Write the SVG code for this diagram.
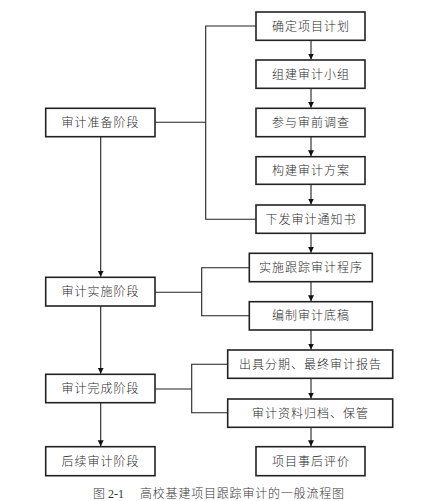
<svg xmlns="http://www.w3.org/2000/svg" width="421" height="501" viewBox="0 0 421 501">
<style>
.box{fill:#fff;stroke:#222;stroke-width:1.6}
.t{font-family:"Liberation Sans","Noto Sans CJK SC",sans-serif;font-size:12px;font-weight:300;fill:#2a2a2a;text-anchor:middle;letter-spacing:1px}
.ln{fill:none;stroke:#222;stroke-width:1.1}
.cap{font-family:"Liberation Serif","Noto Sans CJK SC",serif;font-size:12px;font-weight:300;fill:#333}
</style>
<defs>
<marker id="ah" markerWidth="6" markerHeight="8" refX="6" refY="3" orient="auto" markerUnits="userSpaceOnUse" viewBox="0 0 6 6">
<path d="M0,0 L6,3 L0,6 Z" fill="#111"/>
</marker>
</defs>
<rect width="421" height="501" fill="#fff"/>
<g id="connectors">
<path class="ln" d="M256,26 H205.7 V219.3 H256"/>
<path class="ln" d="M155,122.3 H205.7"/>
<path class="ln" d="M249.3,267.7 H201.7 V315.7 H249.3"/>
<path class="ln" d="M155,292.3 H201.7"/>
<path class="ln" d="M227.7,364.3 H191.7 V412.7 H227.7"/>
<path class="ln" d="M155,389 H191.7"/>
<path class="ln" d="M311,40.3 V59.5" marker-end="url(#ah)"/>
<path class="ln" d="M311,88.3 V107.8" marker-end="url(#ah)"/>
<path class="ln" d="M311,136.7 V156.2" marker-end="url(#ah)"/>
<path class="ln" d="M311,184.3 V204.5" marker-end="url(#ah)"/>
<path class="ln" d="M311,233.3 V252.8" marker-end="url(#ah)"/>
<path class="ln" d="M311,281.7 V301.2" marker-end="url(#ah)"/>
<path class="ln" d="M311,330 V349.5" marker-end="url(#ah)"/>
<path class="ln" d="M311,378.3 V398.5" marker-end="url(#ah)"/>
<path class="ln" d="M311,427.3 V446.2" marker-end="url(#ah)"/>
<path class="ln" d="M100.7,136.7 V276.8" marker-end="url(#ah)"/>
<path class="ln" d="M100.7,306 V373.8" marker-end="url(#ah)"/>
<path class="ln" d="M100.7,402.7 V446.2" marker-end="url(#ah)"/>
</g>
<g id="n1"><rect class="box" x="256" y="12" width="109" height="28.3"/><text class="t" x="311" y="30.5">确定项目计划</text></g>
<g id="n2"><rect class="box" x="256" y="60" width="109" height="28.3"/><text class="t" x="311" y="78.5">组建审计小组</text></g>
<g id="n3"><rect class="box" x="256" y="108.3" width="109" height="28.4"/><text class="t" x="311" y="126.8">参与审前调查</text></g>
<g id="n4"><rect class="box" x="256" y="156.7" width="109" height="27.6"/><text class="t" x="311" y="174.8">构建审计方案</text></g>
<g id="n5"><rect class="box" x="256" y="205" width="109" height="28.3"/><text class="t" x="311" y="223.5">下发审计通知书</text></g>
<g id="n6"><rect class="box" x="249.3" y="253.3" width="123" height="28.4"/><text class="t" x="311" y="271.8">实施跟踪审计程序</text></g>
<g id="n7"><rect class="box" x="249.3" y="301.7" width="123" height="28.3"/><text class="t" x="311" y="320.2">编制审计底稿</text></g>
<g id="n8"><rect class="box" x="227.7" y="350" width="165" height="28.3"/><text class="t" x="310.5" y="368.5">出具分期、最终审计报告</text></g>
<g id="n9"><rect class="box" x="227.7" y="399" width="165" height="28.3"/><text class="t" x="310.5" y="417.5">审计资料归档、保管</text></g>
<g id="n10"><rect class="box" x="256" y="446.7" width="109" height="29"/><text class="t" x="311" y="465.5">项目事后评价</text></g>
<g id="s1"><rect class="box" x="45.7" y="108.3" width="109.3" height="28.4"/><text class="t" x="100.5" y="126.8">审计准备阶段</text></g>
<g id="s2"><rect class="box" x="45.7" y="277.3" width="109.3" height="28.7"/><text class="t" x="100.5" y="295.9">审计实施阶段</text></g>
<g id="s3"><rect class="box" x="45.7" y="374.3" width="109.3" height="28.4"/><text class="t" x="100.5" y="392.8">审计完成阶段</text></g>
<g id="s4"><rect class="box" x="45.7" y="446.7" width="109.3" height="29"/><text class="t" x="100.5" y="465.5">后续审计阶段</text></g>
<text class="cap" x="93" y="497.5">图 2-1<tspan x="140" letter-spacing="0.8">高校基建项目跟踪审计的一般流程图</tspan></text>
</svg>
